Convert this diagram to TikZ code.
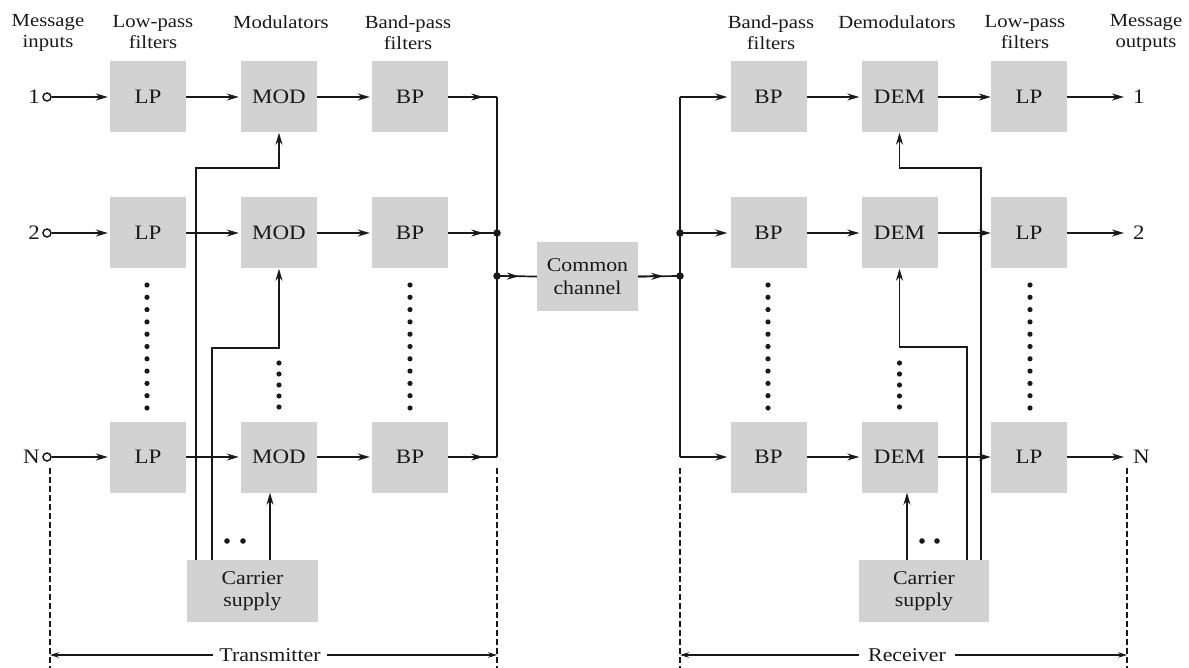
\documentclass[tikz,border=0pt]{standalone}
\usepackage{fontspec}
\setmainfont{Liberation Serif}[FakeStretch=1.12]
\usetikzlibrary{arrows.meta,calc}
\definecolor{boxgray}{RGB}{210,210,210}
\definecolor{ink}{RGB}{25,25,25}
\begin{document}
\begin{tikzpicture}[x=1pt,y=-1pt,
  blk/.style={fill=boxgray, minimum width=76pt, minimum height=71pt, inner sep=0pt, text=ink, font=\fontsize{20.5}{22}\selectfont},
  wide/.style={fill=boxgray, inner sep=0pt, align=center, text=ink, font=\fontsize{19.5}{22.5}\selectfont},
  hdr/.style={align=center, text=ink, font=\fontsize{18.5}{21}\selectfont, inner sep=0pt},
  lbl/.style={text=ink, font=\fontsize{20.5}{22}\selectfont, inner sep=0pt},
  wire/.style={line width=1.7pt, draw=ink},
  arr/.style={wire, -{Stealth[length=12pt,width=7pt]}},
  inport/.style={circle, draw=ink, line width=1.5pt, fill=white, minimum size=8pt, inner sep=0pt},
  dashln/.style={draw=ink, line width=1.3pt, dash pattern=on 6pt off 3pt},
  dimarr/.style={draw=ink, line width=1.1pt, -{Stealth[length=9pt,width=5.5pt]}},
  junc/.style={circle, fill=ink, minimum size=7.5pt, inner sep=0pt},
  dimtext/.style={text=ink, font=\fontsize{19.5}{22}\selectfont, inner sep=0pt},
]
\useasboundingbox (0,0) rectangle (1189,668);

% headers
\node[hdr] (h1) at (48,32.5) {Message\\inputs};
\node[hdr] (h2) at (153,32.5) {Low-pass\\filters};
\node[hdr] (h3) at (281,22) {Modulators};
\node[hdr] (h4) at (408,32.5) {Band-pass\\filters};
\node[hdr] (h5) at (771,32.5) {Band-pass\\filters};
\node[hdr] (h6) at (897,22) {Demodulators};
\node[hdr] (h7) at (1025,32.5) {Low-pass\\filters};
\node[hdr] (h8) at (1146,32.5) {Message\\outputs};

% transmitter blocks
\foreach \r/\y in {1/97,2/233,N/457}{
  \node[blk] (lp\r) at (148,\y) {LP};
  \node[blk] (mod\r) at (279,\y) {MOD};
  \node[blk] (bp\r) at (410,\y) {BP};
  \node[inport] (i\r) at (47,\y) {};
  \node[lbl, anchor=east] (il\r) at (40,\y) {\r};
  \coordinate (b\r) at (497,\y);
  \draw[arr, shorten >=2pt] (i\r) -- (lp\r);
  \draw[arr, shorten >=2pt] (lp\r) -- (mod\r);
  \draw[arr, shorten >=2pt] (mod\r) -- (bp\r);
  \draw[wire] (bp\r.east) -- (b\r);
  \draw[arr] (bp\r.east) -- ($(bp\r.east)!0.72!(b\r)$);
}
% receiver blocks
\foreach \r/\y in {1/97,2/233,N/457}{
  \node[blk] (rbp\r) at (768.5,\y) {BP};
  \node[blk] (dem\r) at (899.5,\y) {DEM};
  \node[blk] (rlp\r) at (1029,\y) {LP};
  \coordinate (rb\r) at (680,\y);
  \coordinate (o\r) at (1124,\y);
  \node[lbl, anchor=west] (ol\r) at (1133,\y) {\r};
  \draw[arr, shorten >=3pt] (rb\r) -- (rbp\r);
  \draw[arr, shorten >=2pt] (rbp\r) -- (dem\r);
  \draw[arr, shorten >=0pt] (dem\r) -- (rlp\r);
  \draw[arr] (rlp\r) -- (o\r);
}

% common channel
\node[wide, minimum width=101pt, minimum height=69pt] (ch) at (587.5,276.5) {Common\\channel};
\coordinate (tj) at (497,276);
\coordinate (rj) at (680,276);
\draw[wire] (b1) -- (bN);
\draw[wire] (rb1) -- (rbN);
\draw[wire] (tj) -- (ch.west);
\draw[arr] (tj) -- ($(tj)!0.55!(ch.west)$);
\draw[wire] (ch.east) -- (rj);
\draw[arr] (ch.east) -- ($(ch.east)!0.6!(rj)$);
\node[junc] (d1) at (b2) {};
\node[junc] (d2) at (tj) {};
\node[junc] (d3) at (rb2) {};
\node[junc] (d4) at (rj) {};

% carrier supplies
\node[wide, minimum width=131pt, minimum height=62pt] (cs1) at (252.5,591) {Carrier\\supply};
\node[wide, minimum width=130pt, minimum height=62pt] (cs2) at (924,591) {Carrier\\supply};

\coordinate (t1) at (196,168);
\coordinate (t2) at (212,348);
\coordinate (t3) at (270,0);
\draw[arr] (cs1.north -| t1) -- (t1) -| (mod1.south);
\draw[arr] (cs1.north -| t2) -- (t2) -| (mod2.south);
\draw[arr] (cs1.north -| t3) -- (modN.south -| t3);

\coordinate (u1) at (981,168);
\coordinate (u2) at (967,347);
\coordinate (u3) at (907,0);
\draw[arr] (cs2.north -| u1) -- (u1) -| (dem1.south);
\draw[arr] (cs2.north -| u2) -- (u2) -| (dem2.south);
\draw[arr] (cs2.north -| u3) -- (demN.south -| u3);

% ellipsis dots
\foreach \c in {147,410,768,1030}{
  \foreach \i in {0,...,10} \fill[ink] (\c,285+12.3*\i) circle (2.6pt);
}
\foreach \c in {279,899.5}{
  \foreach \i in {0,...,4} \fill[ink] (\c,363+11*\i) circle (2.6pt);
}
\foreach \c in {227,243,922,937} \fill[ink] (\c,541) circle (2.8pt);

% dashed boundaries
\coordinate (e1) at (50,468);  \coordinate (e1b) at (50,668);
\coordinate (e2) at (497,468); \coordinate (e2b) at (497,668);
\coordinate (e3) at (680,468); \coordinate (e3b) at (680,668);
\coordinate (e4) at (1127,468); \coordinate (e4b) at (1127,668);
\draw[dashln] (e1) -- (e1b);
\draw[dashln] (e2) -- (e2b);
\draw[dashln] (e3) -- (e3b);
\draw[dashln] (e4) -- (e4b);

% dimension labels
\node[dimtext] (tx) at (270,655) {Transmitter};
\node[dimtext] (rx) at (907,655) {Receiver};
\draw[dimarr] ($(tx.west)+(-6,0)$) -- (e1b |- tx);
\draw[dimarr] ($(tx.east)+(6,0)$) -- (e2b |- tx);
\draw[dimarr] ($(rx.west)+(-9,0)$) -- (e3b |- rx);
\draw[dimarr] ($(rx.east)+(9,0)$) -- (e4b |- rx);
\end{tikzpicture}
\end{document}
